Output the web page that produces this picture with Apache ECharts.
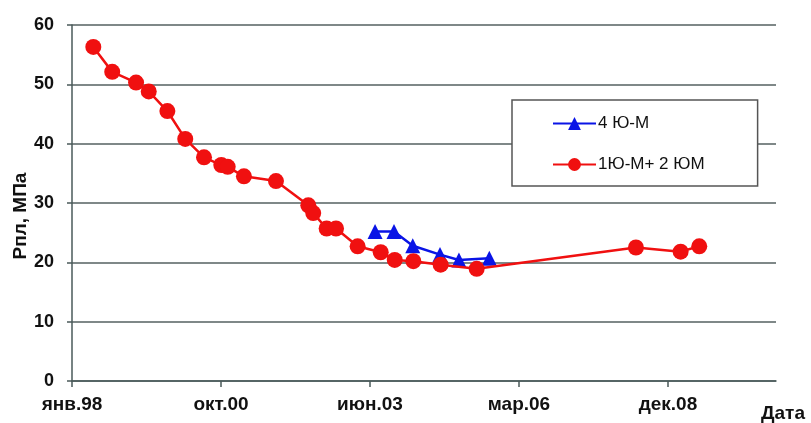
<!DOCTYPE html>
<html>
<head>
<meta charset="utf-8">
<script src="https://cdn.jsdelivr.net/npm/echarts@6/dist/echarts.min.js"></script>
<style>
html,body{margin:0;padding:0;background:#fff;}
#c{width:811px;height:423px;}
</style>
</head>
<body>
<div id="c"></div>
<script>
// Base date of the x axis (Excel-style ticks every 1000 days)
const baseDate = '1998-01-05';
const xTickDays = [0, 1000, 2000, 3000, 4000];
const monthNames = ['янв','фев','мар','апр','май','июн','июл','авг','сен','окт','ноя','дек'];

const seriesNames = ['4 Ю-М', '1Ю-М+ 2 ЮМ'];
const yAxisTitle = 'Рпл, МПа';
const xAxisTitle = 'Дата';

// Series "1Ю-М+ 2 ЮМ"
const redDates = ['1998-05-28','1998-10-02','1999-03-11','1999-06-04','1999-10-07','2000-02-04',
  '2000-06-09','2000-10-03','2000-11-15','2001-03-04','2001-10-05','2002-05-10','2002-06-12',
  '2002-09-10','2002-11-12','2003-04-06','2003-09-08','2003-12-11','2004-04-14','2004-10-14',
  '2005-06-13','2008-05-17','2009-03-13','2009-07-16'];
const redValues = [56.3,52.1,50.3,48.8,45.5,40.8,37.7,36.4,36.1,34.5,33.7,29.6,28.3,
  25.7,25.7,22.7,21.7,20.4,20.2,19.6,18.9,22.5,21.8,22.7];

// Series "4 Ю-М"
const blueDates = ['2003-08-01','2003-12-06','2004-04-10','2004-10-10','2005-02-14','2005-09-06'];
const blueValues = [25.2,25.2,22.8,21.3,20.4,20.7];

const yTicks = {min: 0, max: 60, interval: 10};
const xMaxDays = 4725;

function toDays(s){
  const p = s.split('-').map(Number), b = baseDate.split('-').map(Number);
  return Math.round((Date.UTC(p[0],p[1]-1,p[2]) - Date.UTC(b[0],b[1]-1,b[2])) / 86400000);
}
function fmt(days){
  const b = baseDate.split('-').map(Number);
  const d = new Date(Date.UTC(b[0],b[1]-1,b[2]) + days*86400000);
  return monthNames[d.getUTCMonth()] + '.' + String(d.getUTCFullYear()).slice(2);
}
const redData = redDates.map((d,i)=>[toDays(d), redValues[i]]);
const blueData = blueDates.map((d,i)=>[toDays(d), blueValues[i]]);

const chart = echarts.init(document.getElementById('c'));
const axisColor = '#4a5a5a';
chart.setOption({
  animation: false,
  backgroundColor: '#fff',
  grid: {left: 72, right: 35, top: 25, bottom: 42, outerBoundsMode: 'none'},
  xAxis: {
    type: 'value', min: 0, max: xMaxDays, interval: 1000,
    axisLine: {show: true, lineStyle: {color: axisColor, width: 1.5}},
    axisTick: {show: true, length: 6, customValues: xTickDays, lineStyle: {color: axisColor, width: 1.5}},
    axisLabel: {customValues: xTickDays, formatter: v => fmt(v), margin: 14,
      fontFamily: 'Liberation Sans', fontWeight: 'bold', fontSize: 19, color: '#111'},
    splitLine: {show: false}
  },
  yAxis: {
    type: 'value', min: yTicks.min, max: yTicks.max, interval: yTicks.interval,
    axisLine: {show: true, lineStyle: {color: axisColor, width: 1.5}},
    axisTick: {show: true, length: 5, lineStyle: {color: axisColor, width: 1.5}},
    axisLabel: {margin: 18, fontFamily: 'Liberation Sans', fontWeight: 'bold', fontSize: 18, color: '#111'},
    splitLine: {show: true, lineStyle: {color: '#556060', width: 1.5}}
  },
  legend: {
    orient: 'vertical', left: 512, top: 100,
    padding: [15, 53, 13, 40], itemGap: 24, itemWidth: 43, itemHeight: 16,
    backgroundColor: '#fff', borderColor: '#555', borderWidth: 1.5,
    textStyle: {fontFamily: 'Liberation Sans', fontSize: 17, color: '#111', padding: [0,0,0,-3]},
    data: seriesNames
  },
  graphic: [{
    type: 'text', left: 761, top: 404,
    style: {text: xAxisTitle, fontFamily: 'Liberation Sans', fontWeight: 'bold', fontSize: 19, fill: '#111'}
  }, {
    type: 'text', x: 21, y: 216, rotation: Math.PI / 2,
    style: {text: yAxisTitle, align: 'center', verticalAlign: 'middle',
      fontFamily: 'Liberation Sans', fontWeight: 'bold', fontSize: 19, fill: '#111'}
  }],
  series: [
    {name: seriesNames[0], type: 'line', data: blueData, z: 3,
      symbol: 'triangle', symbolSize: 15,
      lineStyle: {color: '#0a14e6', width: 2.5}, itemStyle: {color: '#0a14e6'}},
    {name: seriesNames[1], type: 'line', data: redData, z: 4,
      symbol: 'circle', symbolSize: 16,
      lineStyle: {color: '#f01010', width: 2.5}, itemStyle: {color: '#f01010'}}
  ]
});
</script>
</body>
</html>
